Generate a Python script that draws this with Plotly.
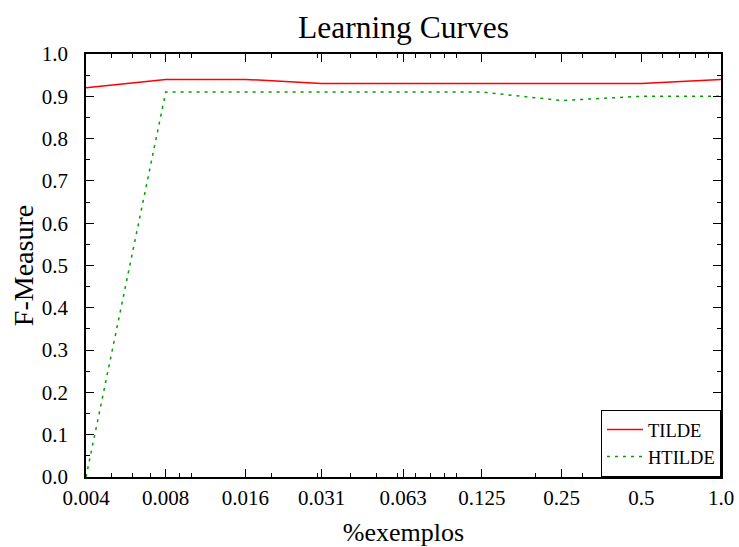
import plotly.graph_objects as go

x_vals = [0.004, 0.008, 0.016, 0.031, 0.063, 0.125, 0.25, 0.5, 1.0]
x_labels = ["0.004", "0.008", "0.016", "0.031", "0.063", "0.125", "0.25", "0.5", "1.0"]
tilde = [0.92, 0.94, 0.94, 0.93, 0.93, 0.93, 0.93, 0.93, 0.94]
htilde = [0.0, 0.91, 0.91, 0.91, 0.91, 0.91, 0.89, 0.90, 0.90]
x_minor = [0.005, 0.006, 0.007, 0.009, 0.01, 0.02, 0.03, 0.04, 0.05, 0.06, 0.07,
           0.08, 0.09, 0.1, 0.2, 0.3, 0.4, 0.6, 0.7, 0.8, 0.9]
y_ticks = [0.0, 0.1, 0.2, 0.3, 0.4, 0.5, 0.6, 0.7, 0.8, 0.9, 1.0]
y_labels = ["0.0", "0.1", "0.2", "0.3", "0.4", "0.5", "0.6", "0.7", "0.8", "0.9", "1.0"]

FONT = "Liberation Serif"

fig = go.Figure()
fig.add_trace(go.Scatter(x=x_vals, y=tilde, mode="lines", name="TILDE",
                         line=dict(color="#ff0000", width=1.5)))
fig.add_trace(go.Scatter(x=x_vals, y=htilde, mode="lines", name="HTILDE",
                         line=dict(color="#00a000", width=1.5, dash="3px,5px")))

fig.update_layout(
    width=739, height=547,
    margin=dict(l=86, r=18, t=54, b=70, autoexpand=False),
    paper_bgcolor="white", plot_bgcolor="white",
    font=dict(family=FONT, color="black", size=21),
    title=dict(text="Learning Curves", x=0.5, xref="paper", xanchor="center",
               y=1 - 27 / 547, yref="container", yanchor="middle",
               font=dict(family=FONT, size=31.5, color="black")),
    showlegend=True,
    legend=dict(x=1, y=0, xanchor="right", yanchor="bottom",
                bordercolor="black", borderwidth=1, bgcolor="white",
                font=dict(family=FONT, size=18.5, color="black"),
                tracegroupgap=0, itemwidth=36),
)

fig.update_xaxes(
    type="log", range=[-2.39794, 0.0], automargin=False,
    tickmode="array", tickvals=x_vals, ticktext=x_labels,
    ticks="inside", ticklen=8, tickwidth=1.2, tickcolor="black",
    ticklabelstandoff=1,
    minor=dict(tickmode="array", tickvals=x_minor, ticks="inside", ticklen=4,
               tickwidth=1.2, tickcolor="black", showgrid=False),
    showgrid=False, zeroline=False,
    showline=True, linecolor="black", linewidth=1.5, mirror="ticks",
    title=dict(text="%exemplos", font=dict(family=FONT, size=26), standoff=14),
    tickfont=dict(family=FONT, size=21),
)
fig.update_yaxes(
    range=[0, 1], automargin=False,
    tickmode="array", tickvals=y_ticks, ticktext=y_labels,
    ticks="inside", ticklen=8, tickwidth=1.2, tickcolor="black",
    ticklabelstandoff=12,
    minor=dict(dtick=0.05, ticks="inside", ticklen=4, tickwidth=1.2,
               tickcolor="black", showgrid=False),
    showgrid=False, zeroline=False,
    showline=True, linecolor="black", linewidth=1.5, mirror="ticks",
    title=dict(text="F-Measure", font=dict(family=FONT, size=28), standoff=0),
    tickfont=dict(family=FONT, size=21),
)

fig.write_html("out.html", config={"displayModeBar": False},
               post_script="document.body.style.margin='0';document.body.style.padding='0';")
